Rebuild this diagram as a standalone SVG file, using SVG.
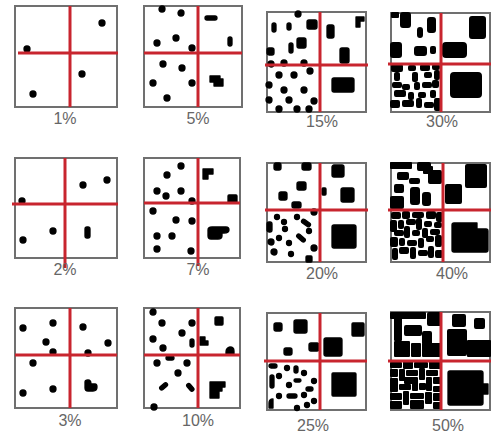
<svg xmlns="http://www.w3.org/2000/svg" width="491" height="434" viewBox="0 0 491 434">
<style>
.box{fill:#fff;stroke:#707070;stroke-width:2}
.rl{stroke:#c8252e;stroke-width:3;fill:none}
.b rect,.b path,.b circle{fill:#000;stroke:#000;stroke-width:1.3;stroke-linejoin:round}
#p30 .b rect,#p40 .b rect,#p50 .b rect{stroke-width:2}
#p15 .b,#p20 .b,#p25 .b{stroke-width:1.6}
.lbl{font-family:"Liberation Sans",Arial,sans-serif;font-size:16px;fill:#666;text-anchor:middle}
</style>
<rect width="491" height="434" fill="#fff"/>

<!-- 1% -->
<g id="p1" transform="translate(15,6)">
<rect class="box" width="102" height="101"/>
<g class="b"><circle cx="87" cy="17" r="3"/><circle cx="12" cy="43" r="3"/><circle cx="67" cy="68" r="3"/><circle cx="18" cy="88" r="3"/></g>
<line class="rl" x1="55" y1="0" x2="55" y2="101"/><line class="rl" x1="3" y1="47" x2="103" y2="47"/>
</g>
<text class="lbl" x="65" y="124">1%</text>

<!-- 5% -->
<g id="p5" transform="translate(144,6)">
<rect class="box" width="98" height="101"/>
<g class="b"><circle cx="18" cy="3" r="3"/><circle cx="37" cy="7" r="3"/><circle cx="32" cy="32" r="3"/><circle cx="13" cy="37" r="3"/><circle cx="48" cy="42" r="3"/><circle cx="19" cy="58" r="3"/><circle cx="38" cy="62" r="3"/><circle cx="9" cy="77" r="3"/><circle cx="48" cy="77" r="3"/><circle cx="23" cy="92" r="3"/>
<rect x="61" y="10" width="12" height="4" rx="2"/><rect x="84" y="31" width="4" height="9" rx="2"/><path d="M66,70h10v3h3v7h-9v-4h-4z"/></g>
<line class="rl" x1="54" y1="0" x2="54" y2="101"/><line class="rl" x1="0" y1="47" x2="98" y2="47"/>
</g>
<text class="lbl" x="198" y="124">5%</text>

<!-- 15% -->
<g id="p15" transform="translate(267,12)">
<rect class="box" width="99" height="100"/>
<g class="b"><circle cx="31" cy="2" r="3"/><rect x="5" y="11" width="4" height="9" rx="2"/><rect x="20" y="11" width="4" height="7" rx="2"/><rect x="40" y="8" width="10" height="9" rx="2"/><rect x="30" y="26" width="9" height="10" rx="2"/><rect x="22" y="31" width="4" height="10" rx="2"/><rect x="0" y="36" width="7" height="7" rx="2"/><circle cx="4" cy="52" r="3"/><circle cx="17" cy="51" r="3"/><circle cx="37" cy="51" r="3"/><circle cx="43" cy="59" r="3"/>
<rect x="60" y="13" width="7" height="13" rx="2"/><path d="M89,5h8v4h-4v6h-4z"/><rect x="73" y="36" width="9" height="15" rx="2"/>
<circle cx="12" cy="63" r="3"/><circle cx="27" cy="63" r="3"/><circle cx="2" cy="73" r="3"/><circle cx="17" cy="78" r="3"/><circle cx="37" cy="78" r="3"/><circle cx="2" cy="88" r="3"/><circle cx="22" cy="88" r="3"/><circle cx="47" cy="89" r="3"/><circle cx="12" cy="97" r="3"/><circle cx="30" cy="97" r="3"/><circle cx="42" cy="97" r="3"/>
<rect x="65" y="66" width="22" height="14" rx="2"/></g>
<line class="rl" x1="53" y1="0" x2="53" y2="100"/><line class="rl" x1="-2" y1="53" x2="101" y2="53"/>
</g>
<text class="lbl" x="322" y="127">15%</text>

<!-- 30% -->
<g id="p30" transform="translate(391,13)">
<rect class="box" width="99" height="99"/>
<g class="b"><rect x="1" y="0" width="6" height="4"/><rect x="10" y="0" width="9" height="14" rx="2"/><rect x="27" y="15" width="4" height="9" rx="2"/><rect x="37" y="5" width="7" height="14" rx="2"/><rect x="0" y="30" width="10" height="14" rx="2"/><rect x="24" y="34" width="11" height="8" rx="2"/><rect x="40" y="34" width="4" height="6" rx="1"/>
<rect x="79" y="4" width="15" height="21" rx="2"/><rect x="52" y="30" width="23" height="14" rx="3"/>
<rect x="1" y="52" width="10" height="6" rx="1"/><rect x="18" y="53" width="6" height="4" rx="1"/><rect x="30" y="52" width="8" height="5" rx="1"/><rect x="42" y="52" width="6" height="4" rx="1"/>
<rect x="4" y="60" width="4" height="7" rx="1"/><rect x="22" y="60" width="4" height="8" rx="1"/><rect x="34" y="60" width="6" height="4" rx="1"/><rect x="44" y="58" width="4" height="8" rx="1"/>
<rect x="2" y="70" width="8" height="4" rx="1"/><rect x="12" y="72" width="6" height="4" rx="1"/><rect x="24" y="70" width="4" height="6" rx="1"/><rect x="32" y="70" width="8" height="4" rx="1"/><rect x="42" y="68" width="5" height="6" rx="1"/>
<rect x="4" y="78" width="10" height="5" rx="1"/><rect x="18" y="80" width="4" height="6" rx="1"/><rect x="28" y="80" width="6" height="4" rx="1"/><rect x="40" y="78" width="4" height="6" rx="1"/>
<rect x="0" y="88" width="8" height="6" rx="1"/><rect x="12" y="88" width="10" height="5" rx="1"/><rect x="26" y="86" width="4" height="8" rx="1"/><rect x="34" y="90" width="8" height="4" rx="1"/><rect x="44" y="86" width="5" height="11" rx="1"/>
<rect x="60" y="60" width="30" height="24" rx="3"/></g>
<line class="rl" x1="50" y1="0" x2="50" y2="99"/><line class="rl" x1="-3" y1="51" x2="100" y2="51"/>
</g>
<text class="lbl" x="442" y="127">30%</text>

<!-- 2% -->
<g id="p2" transform="translate(15,158)">
<rect class="box" width="102" height="100"/>
<g class="b"><circle cx="7" cy="43" r="3"/><circle cx="68" cy="27" r="3"/><circle cx="92" cy="22" r="3"/><circle cx="38" cy="73" r="3"/><circle cx="8" cy="82" r="3"/><rect x="70" y="69" width="5" height="11" rx="2"/></g>
<line class="rl" x1="50" y1="0" x2="50" y2="110"/><line class="rl" x1="-3" y1="46" x2="103" y2="46"/>
</g>
<text class="lbl" x="65" y="275">2%</text>

<!-- 7% -->
<g id="p7" transform="translate(144,158)">
<rect class="box" width="96" height="100"/>
<g class="b"><circle cx="37" cy="8" r="3"/><circle cx="23" cy="17" r="3"/><circle cx="13" cy="33" r="3"/><circle cx="22" cy="38" r="3"/><circle cx="37" cy="33" r="3"/><circle cx="48" cy="43" r="3"/><circle cx="9" cy="53" r="3"/><circle cx="32" cy="62" r="3"/><circle cx="48" cy="63" r="3"/><circle cx="13" cy="78" r="3"/><circle cx="28" cy="78" r="3"/><circle cx="13" cy="91" r="3"/><circle cx="47" cy="93" r="3"/>
<path d="M59,11h10v5h-5v5h-5z"/><rect x="84" y="37" width="9" height="8" rx="1"/><path d="M64,72q0,-3 4,-3h14q3,0 3,3q0,3 -5,3h-2v3q0,3 -4,3h-7q-3,0 -3,-3z"/></g>
<line class="rl" x1="54" y1="0" x2="54" y2="108"/><line class="rl" x1="0" y1="45" x2="96" y2="45"/>
</g>
<text class="lbl" x="198" y="275">7%</text>

<!-- 20% -->
<g id="p20" transform="translate(267,163)">
<rect class="box" width="99" height="99"/>
<g class="b"><rect x="7" y="0" width="7" height="7" rx="2"/><rect x="35" y="0" width="9" height="7" rx="2"/><rect x="30" y="19" width="9" height="8" rx="2"/><rect x="12" y="29" width="8" height="8" rx="2"/><rect x="25" y="39" width="9" height="6" rx="2"/><circle cx="47" cy="49" r="3"/>
<rect x="65" y="2" width="12" height="12" rx="2"/><rect x="55" y="25" width="4" height="7" rx="1"/><rect x="74" y="25" width="13" height="14" rx="2"/>
<rect x="0" y="59" width="5" height="10" rx="2"/><circle cx="10" cy="54" r="2.5"/><circle cx="17" cy="59" r="2.5"/><circle cx="30" cy="54" r="2.5"/><rect x="34" y="58" width="10" height="4" rx="2" transform="rotate(35 39 60)"/><circle cx="4" cy="79" r="3"/><circle cx="12" cy="75" r="2.5"/><circle cx="22" cy="80" r="2.5"/><rect x="29" y="73" width="10" height="4" rx="2" transform="rotate(40 34 75)"/><circle cx="47" cy="85" r="3"/><circle cx="7" cy="89" r="3"/><circle cx="24" cy="91" r="2.5"/><rect x="39" y="93" width="6" height="6" rx="1"/><circle cx="18" cy="66" r="2.5"/><circle cx="42" cy="68" r="2.5"/>
<rect x="65" y="62" width="24" height="23" rx="2"/></g>
<line class="rl" x1="53" y1="0" x2="53" y2="99"/><line class="rl" x1="-2" y1="47" x2="101" y2="47"/>
</g>
<text class="lbl" x="322" y="279">20%</text>

<!-- 40% -->
<g id="p40" transform="translate(391,163)">
<rect class="box" width="99" height="99"/>
<g class="b"><rect x="0" y="0" width="20" height="5"/><rect x="27" y="0" width="12" height="7" rx="1"/><rect x="33" y="4" width="8" height="6"/><rect x="38" y="8" width="12" height="12" rx="1"/><rect x="7" y="10" width="10" height="6" rx="1"/><rect x="19" y="16" width="9" height="4" rx="1"/>
<rect x="4" y="22" width="8" height="7" rx="1"/><rect x="20" y="25" width="8" height="16" rx="2"/><rect x="32" y="30" width="7" height="12" rx="2"/><rect x="0" y="34" width="12" height="11" rx="1"/>
<rect x="75" y="2" width="20" height="22" rx="1"/><rect x="55" y="22" width="15" height="18" rx="1"/>
<rect x="1" y="50" width="8" height="5" rx="1"/><rect x="12" y="49" width="6" height="6" rx="1"/><rect x="22" y="50" width="10" height="4" rx="1"/><rect x="36" y="49" width="8" height="6" rx="1"/><rect x="46" y="50" width="5" height="8" rx="1"/>
<rect x="0" y="58" width="5" height="10" rx="1"/><rect x="8" y="58" width="4" height="7" rx="1"/><rect x="16" y="57" width="8" height="4" rx="1"/><rect x="26" y="56" width="4" height="10" rx="1"/><rect x="34" y="59" width="6" height="4" rx="1"/><rect x="44" y="60" width="6" height="4" rx="1"/>
<rect x="4" y="68" width="8" height="4" rx="1"/><rect x="14" y="64" width="4" height="10" rx="1"/><rect x="22" y="68" width="6" height="4" rx="1"/><rect x="32" y="66" width="4" height="8" rx="1"/><rect x="40" y="67" width="8" height="4" rx="1"/>
<rect x="0" y="75" width="6" height="8" rx="1"/><rect x="9" y="76" width="4" height="6" rx="1"/><rect x="17" y="78" width="8" height="4" rx="1"/><rect x="28" y="76" width="4" height="8" rx="1"/><rect x="36" y="74" width="6" height="4" rx="1"/><rect x="45" y="73" width="5" height="10" rx="1"/>
<rect x="2" y="86" width="4" height="10" rx="1"/><rect x="9" y="85" width="8" height="5" rx="1"/><rect x="20" y="85" width="4" height="10" rx="1"/><rect x="28" y="88" width="8" height="4" rx="1"/><rect x="38" y="84" width="4" height="10" rx="1"/><rect x="45" y="88" width="6" height="6" rx="1"/>
<path d="M61,62q0,-2 2,-2h23v6h9q2,0 2,2v19q0,2 -2,2h-32q-2,0 -2,-2z"/></g>
<line class="rl" x1="52" y1="0" x2="52" y2="99"/><line class="rl" x1="-3" y1="47" x2="100" y2="47"/>
</g>
<text class="lbl" x="452" y="279">40%</text>

<!-- 3% -->
<g id="p3" transform="translate(15,308)">
<rect class="box" width="102" height="100"/>
<g class="b"><circle cx="8" cy="20" r="3"/><circle cx="38" cy="15" r="3"/><circle cx="68" cy="19" r="3"/><circle cx="93" cy="35" r="3"/><circle cx="31" cy="34" r="3"/><circle cx="38" cy="44" r="3"/><circle cx="73" cy="45" r="3"/><circle cx="18" cy="55" r="3"/><circle cx="8" cy="85" r="3"/><circle cx="38" cy="81" r="3"/><path d="M70,74q0,-2 3,-2q3,0 3,4h4q2,0 2,3q0,4 -4,4h-5q-3,0 -3,-3z"/></g>
<line class="rl" x1="55" y1="0" x2="55" y2="100"/><line class="rl" x1="0" y1="47" x2="102" y2="47"/>
</g>
<text class="lbl" x="70" y="426">3%</text>

<!-- 10% -->
<g id="p10" transform="translate(144,308)">
<rect class="box" width="96" height="100"/>
<g class="b"><circle cx="9" cy="4" r="3"/><circle cx="18" cy="15" r="3"/><circle cx="48" cy="15" r="3"/><circle cx="38" cy="25" r="3"/><circle cx="9" cy="31" r="3"/><circle cx="19" cy="40" r="3"/><rect x="46" y="31" width="4" height="8" rx="2"/><path d="M56,29h5v4h3v4h-8z"/><rect x="22" y="48" width="8" height="4" rx="2"/><circle cx="13" cy="55" r="3"/><circle cx="43" cy="55" r="3"/><circle cx="34" cy="65" r="3"/><rect x="15" y="76" width="9" height="4" rx="2" transform="rotate(-40 20 78)"/><rect x="42" y="77" width="9" height="4" rx="2" transform="rotate(50 46 79)"/><circle cx="10" cy="99" r="3"/>
<rect x="71" y="9" width="8" height="8" rx="1"/><path d="M82,44q0,-4 4,-5q4,0 4,4v3h-8z"/><path d="M66,74h15v5h-3v4h-3v7h-9z"/></g>
<line class="rl" x1="54" y1="0" x2="54" y2="100"/><line class="rl" x1="0" y1="47" x2="96" y2="47"/>
</g>
<text class="lbl" x="198" y="426">10%</text>

<!-- 25% -->
<g id="p25" transform="translate(267,313)">
<rect class="box" width="99" height="97"/>
<g class="b"><rect x="7" y="10" width="8" height="8" rx="2"/><rect x="27" y="7" width="13" height="13" rx="2"/><rect x="17" y="35" width="8" height="7" rx="2"/><rect x="42" y="30" width="10" height="8" rx="2"/>
<rect x="85" y="10" width="12" height="13" rx="1"/><rect x="57" y="25" width="18" height="18" rx="2"/>
<rect x="2" y="51" width="8" height="4" rx="2"/><circle cx="20" cy="55" r="2.5"/><rect x="27" y="53" width="4" height="7" rx="2"/><rect x="3" y="62" width="4" height="13" rx="2"/><circle cx="12" cy="63" r="2.5"/><circle cx="22" cy="72" r="2.5"/><rect x="27" y="66" width="7" height="3" rx="1.5"/><rect x="39" y="74" width="7" height="4" rx="2"/><circle cx="12" cy="83" r="2.5"/><rect x="20" y="81" width="10" height="4" rx="2"/><path d="M6,86q-4,0 -4,4v5h4v-5z"/><circle cx="37" cy="82" r="2.5"/><circle cx="47" cy="88" r="2.5"/><circle cx="30" cy="95" r="2.5"/><circle cx="40" cy="92" r="2.5"/><circle cx="47" cy="68" r="2.5"/><circle cx="37" cy="60" r="2.5"/>
<rect x="65" y="60" width="24" height="23" rx="1"/></g>
<line class="rl" x1="53" y1="0" x2="53" y2="97"/><line class="rl" x1="-3" y1="48" x2="100" y2="48"/>
</g>
<text class="lbl" x="313" y="431">25%</text>

<!-- 50% -->
<g id="p50" transform="translate(391,312)">
<rect class="box" width="99" height="98"/>
<g class="b"><rect x="0" y="1" width="34" height="5"/><rect x="37" y="1" width="13" height="12" rx="1"/><rect x="4" y="6" width="6" height="22"/><rect x="14" y="14" width="16" height="9" rx="1"/><rect x="32" y="20" width="8" height="12" rx="1"/><rect x="4" y="30" width="14" height="14"/><rect x="21" y="32" width="8" height="12"/><rect x="32" y="32" width="18" height="12"/>
<rect x="62" y="3" width="12" height="11" rx="1"/><rect x="84" y="7" width="9" height="9" rx="1"/><rect x="57" y="18" width="18" height="25" rx="1"/><rect x="77" y="29" width="22" height="15"/>
<rect x="0" y="51" width="10" height="4"/><rect x="13" y="50" width="8" height="6"/><rect x="24" y="51" width="12" height="4"/><rect x="39" y="50" width="10" height="6"/>
<rect x="0" y="58" width="6" height="6"/><rect x="9" y="58" width="4" height="10"/><rect x="16" y="59" width="10" height="4"/><rect x="29" y="57" width="4" height="10"/><rect x="36" y="59" width="10" height="4"/>
<rect x="0" y="67" width="6" height="12"/><rect x="14" y="66" width="12" height="5"/><rect x="22" y="70" width="4" height="8"/><rect x="36" y="66" width="4" height="12"/><rect x="43" y="66" width="6" height="5"/>
<rect x="9" y="73" width="10" height="4"/><rect x="29" y="72" width="5" height="5"/><rect x="43" y="75" width="7" height="4"/>
<rect x="0" y="82" width="10" height="5"/><rect x="13" y="80" width="4" height="12"/><rect x="20" y="82" width="12" height="4"/><rect x="35" y="81" width="5" height="10"/><rect x="43" y="82" width="7" height="6"/>
<rect x="0" y="90" width="10" height="6"/><rect x="20" y="89" width="12" height="7"/><rect x="43" y="91" width="7" height="5"/>
<path d="M57,61q0,-2 2,-2h31q2,0 2,2v11h5v10h-5v9q0,2 -2,2h-31q-2,0 -2,-2z"/></g>
<line class="rl" x1="50" y1="0" x2="50" y2="98"/><line class="rl" x1="-3" y1="49" x2="100" y2="49"/>
</g>
<text class="lbl" x="448" y="431">50%</text>
</svg>
